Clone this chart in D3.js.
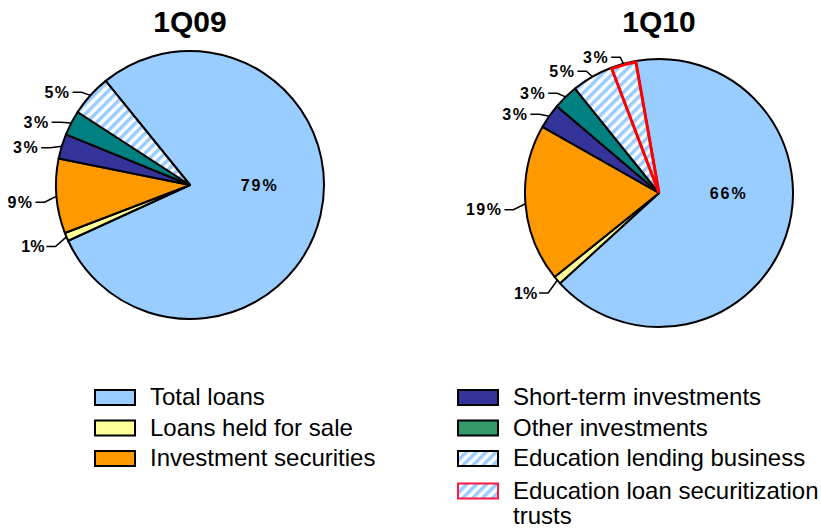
<!DOCTYPE html>
<html>
<head>
<meta charset="utf-8">
<script src="https://cdn.jsdelivr.net/npm/d3@7"></script>
<style>
  body { margin: 0; background: #fff; }
  text { font-family: "Liberation Sans", Arial, sans-serif; }
</style>
</head>
<body>
<script>
// chart values
var categories = ["Total loans", "Loans held for sale", "Investment securities",
  "Short-term investments", "Other investments", "Education lending business",
  "Education loan securitization trusts"];
var periods = ["1Q09", "1Q10"];
var values1Q09 = [79, 1, 9, 3, 3, 5, 0];
var values1Q10 = [66, 1, 19, 3, 3, 5, 3];
var startAngles = [-39, -10]; // degrees, where the first slice begins

var w = 821, h = 530, r = 134;
var fills = ["#99ccff", "#ffff99", "#ff9900", "#333399", "#008080", "url(#hatch)", "url(#hatch)"];
var legendFills = ["#99ccff", "#ffff99", "#ff9900", "#333399", "#339966", "url(#hatch)", "url(#hatch)"];

var svg = d3.select("body").append("svg")
  .attr("width", w)
  .attr("height", h);

svg.append("rect").attr("width", w).attr("height", h).attr("fill", "#fff");

// hatch pattern for the education slices
var pat = svg.append("defs").append("pattern")
  .attr("id", "hatch")
  .attr("patternUnits", "userSpaceOnUse")
  .attr("width", 7).attr("height", 7)
  .attr("patternTransform", "rotate(45)");
pat.append("rect").attr("width", 7).attr("height", 7).attr("fill", "#fff");
pat.append("rect").attr("width", 3.5).attr("height", 7).attr("fill", "#99ccff");

var x = d3.scalePoint().domain(periods).range([190, 659]);
var cy = [185, 193];

var arc = d3.arc().innerRadius(0).outerRadius(r);

[values1Q09, values1Q10].forEach(function(vals, k){
  var cx = x(periods[k]);
  var data = vals.map(function(v, i){ return {cat: categories[i], value: v, i: i}; });
  var a0 = startAngles[k] * Math.PI / 180;
  var pie = d3.pie().sort(null).value(function(d){ return d.value; })
    .startAngle(a0).endAngle(a0 + 2 * Math.PI);
  var arcs = pie(data).filter(function(d){ return d.data.value > 0; });

  var g = svg.append("g").attr("transform", "translate(" + cx + "," + cy[k] + ")");

  // title
  svg.append("text")
    .attr("x", cx).attr("y", 32)
    .attr("text-anchor", "middle")
    .style("font-size", "30px").style("font-weight", "bold")
    .text(periods[k]);

  g.selectAll("path.slice").data(arcs).enter().append("path")
    .attr("class", "slice")
    .attr("d", arc)
    .attr("fill", function(d){ return fills[d.data.i]; })
    .attr("stroke", "#000")
    .attr("stroke-width", 2)
    .attr("stroke-linejoin", "round");

  // red outline for the securitization trusts slice, drawn on top
  g.selectAll("path.trust").data(arcs.filter(function(d){ return d.data.i === 6; })).enter().append("path")
    .attr("d", d3.arc().innerRadius(0).outerRadius(r - 1))
    .attr("fill", "none")
    .attr("stroke", "#ff0000")
    .attr("stroke-width", 3)
    .attr("stroke-linejoin", "miter");

  function pt(a, rad){ return [Math.sin(a) * rad, -Math.cos(a) * rad]; }

  arcs.forEach(function(d){
    var mid = (d.startAngle + d.endAngle) / 2;
    var lbl = d.data.value + "%";
    if (d.data.i === 0) {
      // big slice: label on the horizontal axis to the right of the centre
      var c = pt(Math.PI / 2, r * 0.52);
      g.append("text")
        .attr("x", c[0]).attr("y", c[1])
        .attr("dy", "0.35em")
        .attr("text-anchor", "middle")
        .style("font-size", "16px").style("font-weight", "bold")
        .style("letter-spacing", "2px")
        .text(lbl);
      return;
    }
    var p0 = pt(mid, r), p1 = pt(mid, r + 12);
    p1[1] += 5;
    var p2 = [p1[0] - 9, p1[1]];
    g.append("polyline")
      .attr("points", [p0, p1, p2].map(function(p){ return p.join(","); }).join(" "))
      .attr("fill", "none")
      .attr("stroke", "#000")
      .attr("stroke-width", 1.5);
    g.append("text")
      .attr("x", p2[0] - 2).attr("y", p2[1])
      .attr("dy", "0.35em")
      .attr("text-anchor", "end")
      .style("font-size", "16px").style("font-weight", "bold")
      .style("letter-spacing", d.data.value === 1 ? "0px" : "1.5px")
      .text(lbl);
  });
});

// legend, two columns
var leg = svg.selectAll("g.leg").data(categories).enter().append("g")
  .attr("class", "leg")
  .attr("transform", function(d, i){
    var col = i < 3 ? 0 : 1;
    var row = col === 0 ? i : i - 3;
    var lx = col === 0 ? 95 : 458;
    var ly = 397 + row * 30.5 + (i === 6 ? 2 : 0);
    return "translate(" + lx + "," + ly + ")";
  });

leg.append("rect")
  .attr("x", 0).attr("y", -7)
  .attr("width", 40).attr("height", 15)
  .attr("fill", function(d, i){ return legendFills[i]; })
  .attr("stroke", function(d, i){ return i === 6 ? "#ff1744" : "#000"; })
  .attr("stroke-width", 2);

leg.append("text")
  .attr("x", 55).attr("y", 0)
  .attr("dy", "0.35em")
  .style("font-size", "24px")
  .each(function(d){
    var t = d3.select(this);
    if (d === "Education loan securitization trusts") {
      t.append("tspan").attr("x", 55).text("Education loan securitization");
      t.append("tspan").attr("x", 55).attr("dy", "1.05em").text("trusts");
    } else {
      t.text(d);
    }
  });
</script>
</body>
</html>
